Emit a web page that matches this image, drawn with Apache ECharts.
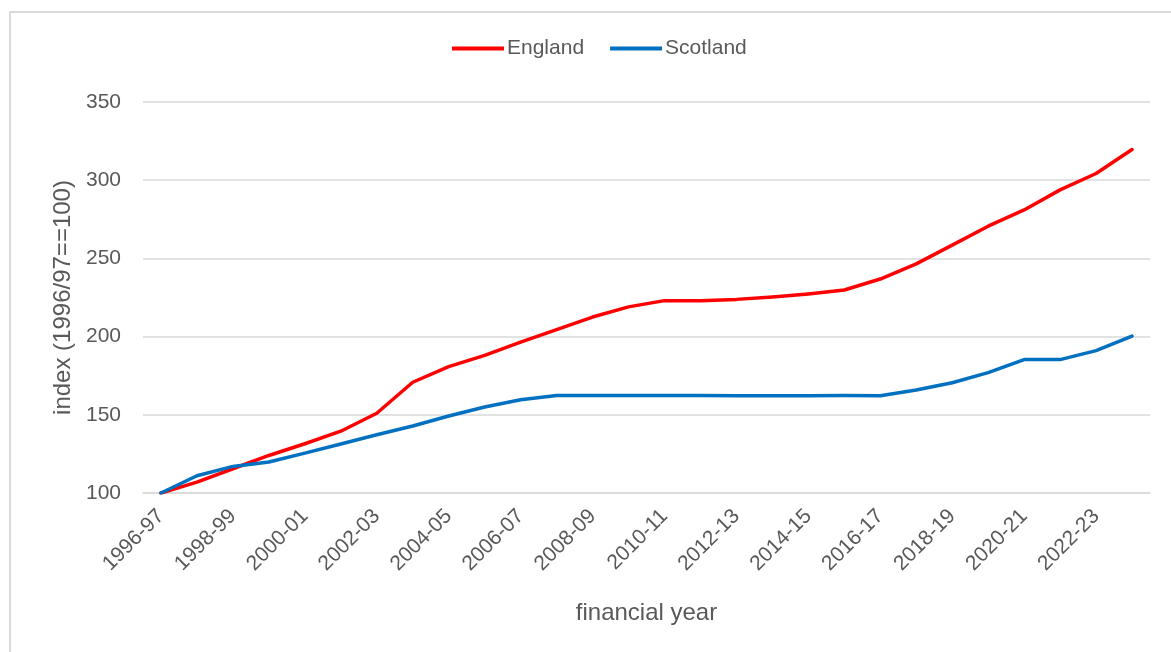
<!DOCTYPE html>
<html>
<head>
<meta charset="utf-8">
<script src="https://cdn.jsdelivr.net/npm/echarts@6/dist/echarts.min.js"></script>
<style>
    html, body { margin: 0; padding: 0; background: #fff; }
    .frame {
        position: absolute; left: 9px; top: 11px; width: 1200px; height: 700px;
        border-left: 2px solid #d9d9d9; border-top: 2px solid #d9d9d9;
    }
    #chart { position: absolute; left: 0; top: 0; width: 1171px; height: 652px; }
</style>
</head>
<body>
<div class="frame"></div>
<div id="chart"></div>
<script>
// financial years
const years = ['1996-97', '1997-98', '1998-99', '1999-00', '2000-01', '2001-02', '2002-03',
    '2003-04', '2004-05', '2005-06', '2006-07', '2007-08', '2008-09', '2009-10', '2010-11',
    '2011-12', '2012-13', '2013-14', '2014-15', '2015-16', '2016-17', '2017-18', '2018-19',
    '2019-20', '2020-21', '2021-22', '2022-23', '2023-24']

// index values, 1996/97 = 100
const england = [100, 107, 115.5, 124, 131.5, 139.5, 151, 170.8, 180.8, 188, 196.5, 204.5,
    212.5, 219, 223, 223, 223.8, 225.3, 227.3, 229.8, 236.8, 246.5, 258.5, 270.6, 281,
    293.8, 304.3, 319.6]
const scotland = [100, 111, 117, 119.8, 125.5, 131.3, 137.2, 142.8, 149.2, 155, 159.6, 162.3,
    162.4, 162.4, 162.4, 162.4, 162.2, 162.2, 162.2, 162.4, 162.2, 165.8, 170.5, 177, 185.3,
    185.3, 191, 200.3]

const yTicks = { min: 100, max: 350, interval: 50 }

let myChart = echarts.init(document.getElementById('chart'))
let option = {
    animation: false,
    textStyle: { fontFamily: 'Liberation Sans' },
    legend: {
        left: 447,
        top: 33,
        itemWidth: 52,
        itemHeight: 4,
        itemGap: 26,
        icon: 'rect',
        textStyle: { color: '#595959', fontSize: 21, padding: [0, 0, 0, -2] },
        data: ['England', 'Scotland']
    },
    grid: {
        left: 143,
        right: 21,
        top: 102,
        bottom: 159
    },
    xAxis: {
        type: 'category',
        data: years,
        boundaryGap: true,
        name: 'financial year',
        nameLocation: 'middle',
        nameGap: 108,
        nameTextStyle: { color: '#595959', fontSize: 24 },
        axisLine: { lineStyle: { color: '#d9d9d9', width: 1.5 } },
        axisTick: { show: false },
        axisLabel: {
            interval: 1,
            rotate: 45,
            margin: 20,
            color: '#595959',
            fontSize: 21
        }
    },
    yAxis: {
        type: 'value',
        min: yTicks.min,
        max: yTicks.max,
        interval: yTicks.interval,
        name: 'index (1996/97==100)',
        nameLocation: 'middle',
        nameGap: 68,
        nameTextStyle: { color: '#595959', fontSize: 24 },
        axisLine: { show: false },
        axisTick: { show: false },
        axisLabel: { color: '#595959', fontSize: 21, margin: 22 },
        splitLine: { lineStyle: { color: '#d9d9d9', width: 1.5 } }
    },
    series: [
        {
            name: 'England',
            type: 'line',
            data: england,
            showSymbol: false,
            itemStyle: { color: '#ff0000' },
            lineStyle: { color: '#ff0000', width: 3.5, cap: 'round', join: 'round' }
        },
        {
            name: 'Scotland',
            type: 'line',
            data: scotland,
            showSymbol: false,
            itemStyle: { color: '#0070c0' },
            lineStyle: { color: '#0070c0', width: 3.5, cap: 'round', join: 'round' }
        }
    ]
}
myChart.setOption(option)
</script>
</body>
</html>
